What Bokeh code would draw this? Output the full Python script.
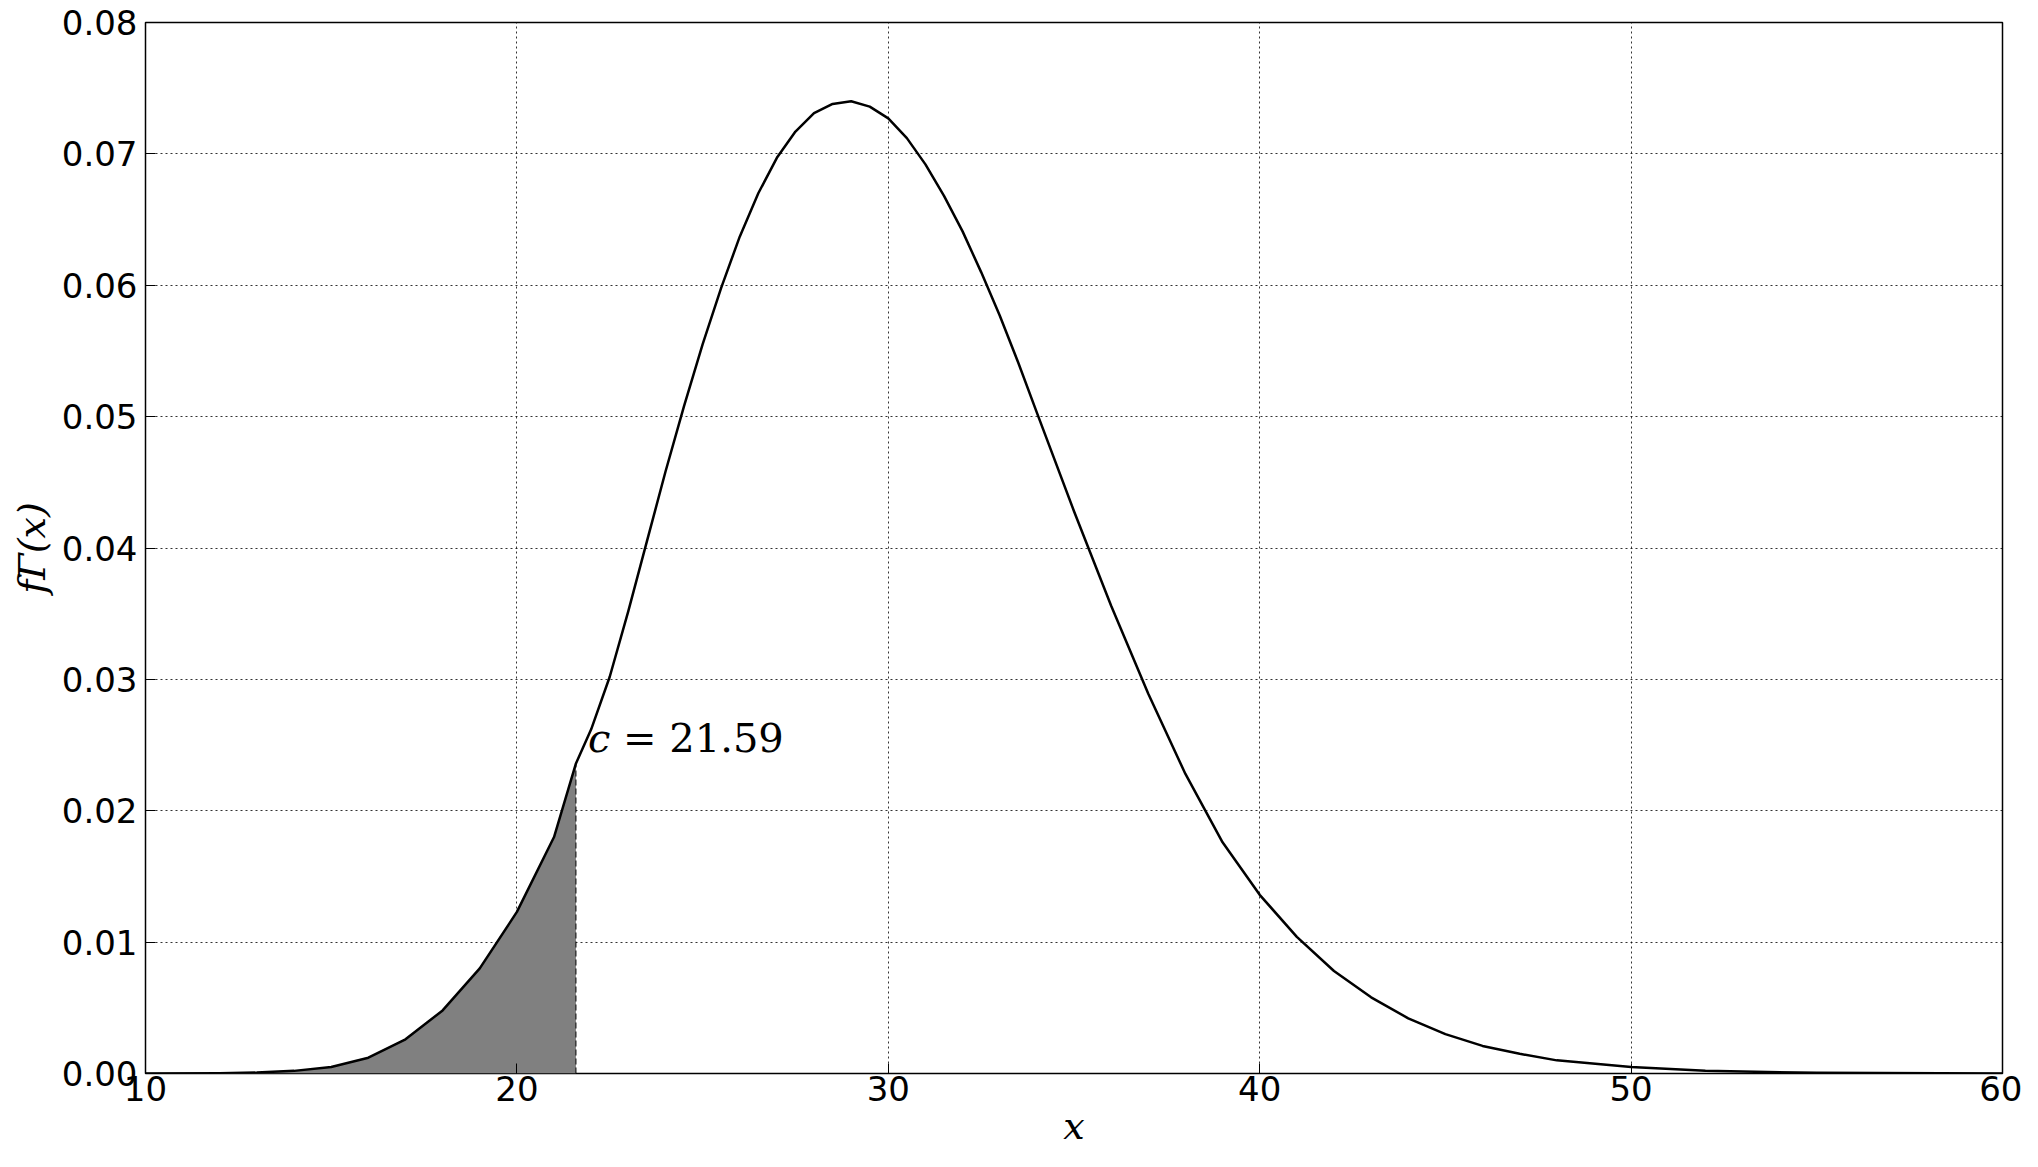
from bokeh.plotting import figure
from bokeh.models import FixedTicker, NumeralTickFormatter, Label
from bokeh.embed import file_html
from bokeh.resources import INLINE

xs = [10, 12, 13, 14, 15, 16, 17, 18, 19, 20, 21, 21.59, 22, 22.5, 23, 23.5, 24, 24.5, 25, 25.5, 26, 26.5, 27, 27.5, 28, 28.5, 29, 29.5, 30, 30.5, 31, 31.5, 32, 32.5, 33, 33.5, 34, 35, 36, 37, 38, 39, 40, 41, 42, 43, 44, 45, 46, 47, 48, 50, 52, 55, 60]
ys = [0, 0.00002, 0.00007, 0.0002, 0.0005, 0.0012, 0.0026, 0.0048, 0.008, 0.0123, 0.018, 0.0236, 0.0262, 0.0302, 0.0352, 0.0405, 0.0458, 0.0508, 0.0555, 0.0598, 0.0637, 0.0670, 0.0697, 0.0717, 0.0731, 0.0738, 0.0740, 0.0736, 0.0727, 0.0712, 0.0692, 0.0668, 0.0641, 0.0610, 0.0577, 0.0541, 0.0503, 0.0428, 0.0356, 0.0289, 0.0228, 0.0176, 0.0136, 0.0104, 0.0078, 0.0058, 0.0042, 0.0030, 0.0021, 0.0015, 0.0010, 0.0005, 0.0002, 0.00005, 0]
c = 21.59
x_ticks = [10, 20, 30, 40, 50, 60]
y_ticks = [0, 0.01, 0.02, 0.03, 0.04, 0.05, 0.06, 0.07, 0.08]

p = figure(width=2022, height=1150, x_range=(10, 60), y_range=(0, 0.08),
           output_backend="svg", toolbar_location=None,
           min_border_left=145, min_border_right=20, min_border_top=22, min_border_bottom=62)
p.outline_line_color = "black"
p.outline_line_width = 1.5

sx = [x for x in xs if x <= c]
sy = ys[:len(sx)]
p.varea(x=sx, y1=[0]*len(sx), y2=sy, fill_color="#808080")
p.line(xs, ys, line_color="black", line_width=2.5, line_join="round")
p.segment(x0=[c], y0=[0], x1=[c], y1=[ys[xs.index(c)]], line_color="black", line_dash="6 3", line_width=1)
p.add_layout(Label(x=c, y=0.0238, text="𝑐 = 21.59", x_offset=12, text_font="DejaVu Serif",
                   text_color="black", text_font_size="40px", text_baseline="bottom"))

for ax in (p.xaxis[0], p.yaxis[0]):
    ax.major_label_text_font = "DejaVu Sans"
    ax.major_label_text_font_size = "34px"
    ax.major_label_text_color = "black"
    ax.axis_label_text_font = "DejaVu Serif"
    ax.axis_label_text_font_size = "38px"
    ax.axis_label_text_color = "black"
    ax.axis_label_text_font_style = "italic"
    ax.major_tick_in = 10
    ax.major_tick_out = 0
    ax.major_tick_line_color = "black"
    ax.minor_tick_line_color = None
    ax.axis_line_color = None
p.xaxis.ticker = FixedTicker(ticks=x_ticks)
p.yaxis.ticker = FixedTicker(ticks=y_ticks)
p.yaxis.formatter = NumeralTickFormatter(format="0.00")
p.xaxis.axis_label = "x"
p.yaxis.axis_label = "f\u0393(x)"
p.xaxis.axis_label_standoff = 0
p.xaxis.major_label_standoff = 2
p.yaxis.major_label_standoff = 8

p.xgrid.ticker = FixedTicker(ticks=x_ticks)
p.ygrid.ticker = FixedTicker(ticks=y_ticks)
for g in (p.xgrid[0], p.ygrid[0]):
    g.grid_line_color = "black"
    g.grid_line_dash = "2 3"
    g.grid_line_alpha = 0.8

open("out.html", "w").write(file_html(p, INLINE))
